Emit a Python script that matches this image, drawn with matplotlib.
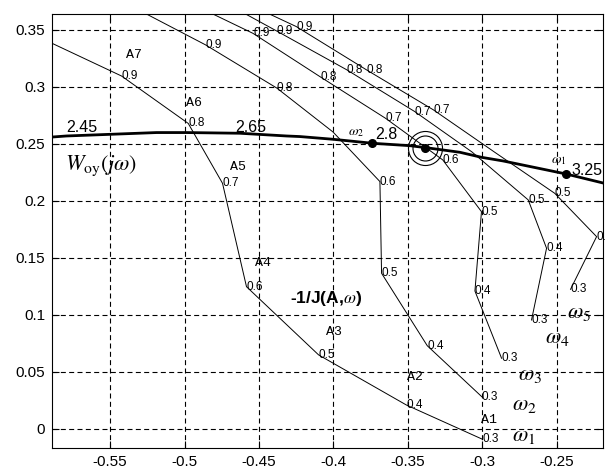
import matplotlib
matplotlib.use('Agg')
import matplotlib.pyplot as plt

plt.rcParams['font.family'] = ['Liberation Sans', 'DejaVu Sans']
plt.rcParams['mathtext.fontset'] = 'stix'

# W_oy(jw) hodograph (thick line)
w_x = [-0.595, -0.5793, -0.5188, -0.4987, -0.4629, -0.4315, -0.4226, -0.4002,
       -0.3738, -0.3487, -0.3382, -0.3151, -0.3006, -0.2861, -0.2439, -0.2150]
w_y = [0.2555, 0.2570, 0.2600, 0.2600, 0.2594, 0.2570, 0.2565, 0.2541,
       0.2506, 0.2485, 0.2468, 0.2427, 0.2383, 0.2351, 0.2237, 0.2145]

# marked points on W_oy: omega2, omega1, and the circled intersection
dot_x = [-0.3738, -0.2439]
dot_y = [0.2506, 0.2237]
cross_x = [-0.3382]
cross_y = [0.2468]

# -1/J(A,w) curves, points at A = 0.3 ... 0.9 (+ point at the plot edge)
om1_x = [-0.300, -0.351, -0.410, -0.4584, -0.4745, -0.4975, -0.5423, -0.595]
om1_y = [-0.009, 0.021, 0.065, 0.1248, 0.2155, 0.268, 0.3096, 0.342]
om1_lab = ['0.3', '0.4', '0.5', '0.6', '0.7', '0.8', '0.9']

om2_x = [-0.3004, -0.337, -0.3677, -0.3688, -0.4003, -0.438, -0.486, -0.5256]
om2_y = [0.0283, 0.073, 0.1366, 0.217, 0.2605, 0.299, 0.337, 0.364]
om2_lab = ['0.3', '0.4', '0.5', '0.6', '', '0.8', '0.9']

om3_x = [-0.2871, -0.305, -0.3006, -0.3266, -0.365, -0.409, -0.454, -0.481]
om3_y = [0.062, 0.121, 0.1906, 0.236, 0.2725, 0.309, 0.347, 0.364]
om3_lab = ['0.3', '0.4', '0.5', '0.6', '0.7', '0.8', '0.9']

om4_x = [-0.267, -0.2569, -0.2692, -0.307, -0.3454, -0.391, -0.438, -0.459]
om4_y = [0.0956, 0.1585, 0.2009, 0.243, 0.2784, 0.315, 0.349, 0.364]
om4_lab = ['0.3', '0.4', '0.5', '', '0.7', '0.8', '0.9']

om5_x = [-0.2408, -0.2233, -0.2514, -0.292, -0.333, -0.3778, -0.425, -0.443]
om5_y = [0.1225, 0.1687, 0.2067, 0.243, 0.280, 0.315, 0.353, 0.364]
om5_lab = ['0.3', '0.4', '0.5', '', '0.7', '0.8', '0.9']

x_ticks = [-0.55, -0.5, -0.45, -0.4, -0.35, -0.3, -0.25]
x_ticklabels = ['-0.55', '-0.5', '-0.45', '-0.4', '-0.35', '-0.3', '-0.25']
y_ticks = [0, 0.05, 0.1, 0.15, 0.2, 0.25, 0.3, 0.35]
y_ticklabels = ['0', '0.05', '0.1', '0.15', '0.2', '0.25', '0.3', '0.35']

fig = plt.figure(figsize=(6.05, 4.70), dpi=100)
ax = fig.add_axes([52 / 605, 1 - 448 / 470, (603 - 52) / 605, (448 - 14) / 470])

curves = [(om1_x, om1_y, om1_lab), (om2_x, om2_y, om2_lab), (om3_x, om3_y, om3_lab),
          (om4_x, om4_y, om4_lab), (om5_x, om5_y, om5_lab)]
for cx, cy, labs in curves:
    ax.plot(cx, cy, color='k', linewidth=0.7, zorder=3)
    for xx, yy, lb in zip(cx, cy, labs):
        if lb:
            ax.text(xx, yy, lb, fontsize=8.5, ha='left', va='center', zorder=4)

ax.plot(w_x, w_y, color='k', linewidth=2.0, zorder=5)
ax.plot(dot_x, dot_y, 'o', color='k', markersize=5.5, zorder=6)
ax.plot(cross_x, cross_y, 'o', color='k', markersize=5.5, zorder=6)
ax.plot(cross_x, cross_y, 'o', mfc='none', mec='k', markersize=18, mew=0.8, zorder=6)
ax.plot(cross_x, cross_y, 'o', mfc='none', mec='k', markersize=24.5, mew=0.8, zorder=6)

# frequency labels along W_oy
ax.text(-0.5796, 0.2605, '2.45', fontsize=11.5, va='baseline')
ax.text(-0.4662, 0.2608, '2.65', fontsize=11.5, va='baseline')
ax.text(-0.3722, 0.2540, '2.8', fontsize=11.5, va='baseline')
ax.text(-0.2403, 0.2228, '3.25', fontsize=11.5, va='baseline')
ax.text(-0.3900, 0.2579, r'$\omega_2$', fontsize=10, va='baseline')
ax.text(-0.2536, 0.2330, r'$\omega_1$', fontsize=10, va='baseline')

ax.text(-0.5804, 0.2272, r'$W_{\rm oy}(j\omega)$', fontsize=16, va='baseline')
ax.text(-0.4293, 0.1102, r'-1/J(A,$\omega$)', fontsize=12.5, fontweight='bold',
        va='baseline')

# amplitude labels
for name, tx, ty in [('A1', -0.3007, 0.0079), ('A2', -0.3508, 0.0459), ('A3', -0.405, 0.0848),
                     ('A4', -0.4529, 0.1453), ('A5', -0.4696, 0.230), ('A6', -0.4987, 0.2857),
                     ('A7', -0.539, 0.328)]:
    ax.text(tx, ty, name, fontsize=9.5, family='Liberation Mono', ha='left', va='center')

# curve names
for name, tx, ty in [(r'$\omega_1$', -0.2803, -0.0102), (r'$\omega_2$', -0.2803, 0.0167),
                     (r'$\omega_3$', -0.2760, 0.0430), (r'$\omega_4$', -0.2580, 0.0752),
                     (r'$\omega_5$', -0.2435, 0.0971)]:
    ax.text(tx, ty, name, fontsize=16, ha='left', va='baseline')

ax.set_xlim(-0.589, -0.219)
ax.set_ylim(-0.0167, 0.364)
ax.set_xticks(x_ticks)
ax.set_xticklabels(x_ticklabels)
ax.set_yticks(y_ticks)
ax.set_yticklabels(y_ticklabels)
ax.tick_params(direction='in', top=True, right=True, length=5, width=0.8,
               labelsize=11, pad=5)
ax.grid(True, color='k', linestyle=(0, (4.5, 3)), linewidth=0.8)
for s in ax.spines.values():
    s.set_linewidth(0.8)

fig.savefig('out.png', dpi=100)
